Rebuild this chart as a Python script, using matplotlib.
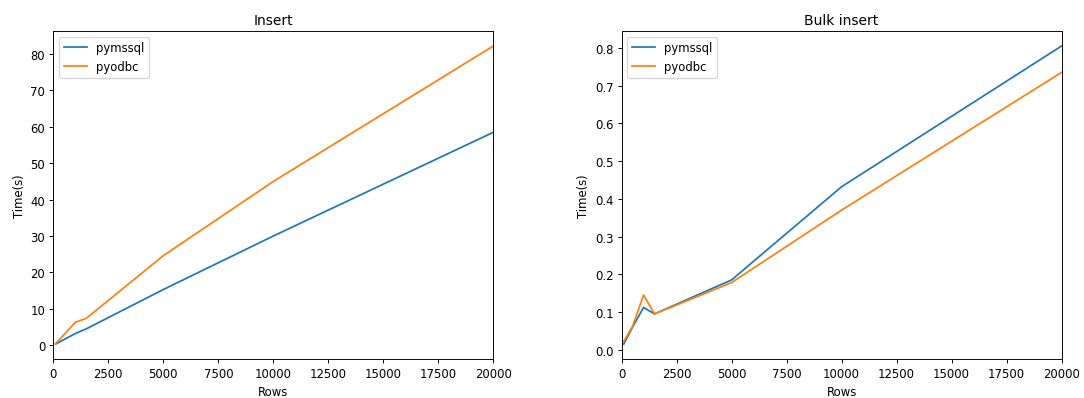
import matplotlib.pyplot as plt
from matplotlib.ticker import MultipleLocator

rows = [100, 500, 1000, 1500, 5000, 10000, 20000]

# Insert timings (s)
insert_pymssql = [0.3, 1.6, 3.2, 4.5, 15.3, 30.0, 58.5]
insert_pyodbc = [0.4, 3.0, 6.3, 7.4, 24.6, 45.0, 82.2]

# Bulk insert timings (s)
bulk_pymssql = [0.015, 0.06, 0.112, 0.095, 0.185, 0.432, 0.805]
bulk_pyodbc = [0.022, 0.062, 0.145, 0.095, 0.178, 0.370, 0.735]

# original was drawn larger and scaled down
fig, (ax1, ax2) = plt.subplots(1, 2, figsize=(13, 4.785), dpi=1084 / 13)
fig.subplots_adjust(left=0.0492, right=0.9794, bottom=0.0977, top=0.9198, wspace=0.291)

ax1.plot(rows, insert_pymssql, label="pymssql")
ax1.plot(rows, insert_pyodbc, label="pyodbc")
ax1.set_title("Insert")
ax1.set_xlabel("Rows")
ax1.set_ylabel("Time(s)")
ax1.set_xlim(0, 20000)
ax1.yaxis.set_major_locator(MultipleLocator(10))
ax1.legend(loc="upper left")

ax2.plot(rows, bulk_pymssql, label="pymssql")
ax2.plot(rows, bulk_pyodbc, label="pyodbc")
ax2.set_title("Bulk insert")
ax2.set_xlabel("Rows")
ax2.set_ylabel("Time(s)")
ax2.set_xlim(0, 20000)
ax2.legend(loc="upper left")

plt.savefig("out.png")
